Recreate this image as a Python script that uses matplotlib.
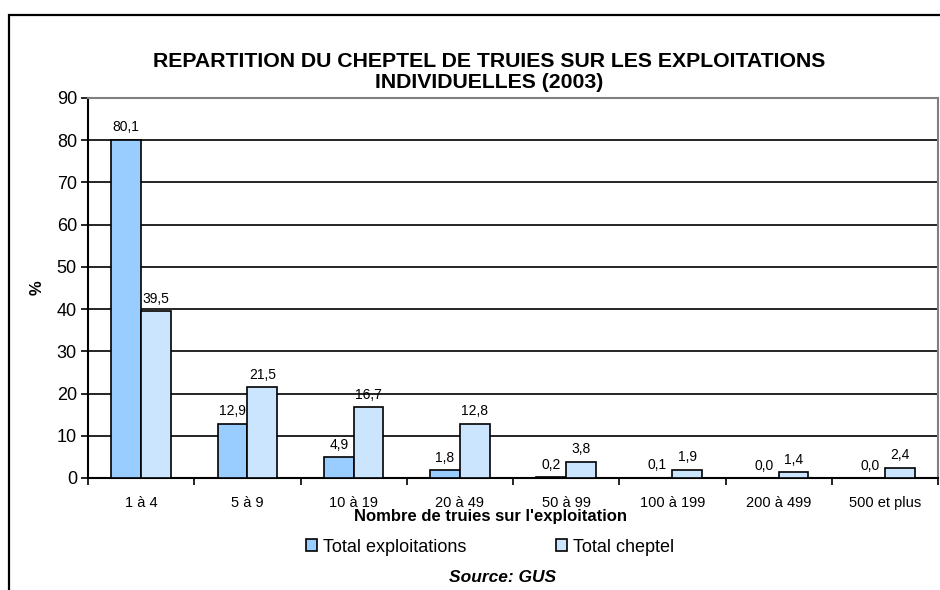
import matplotlib.pyplot as plt
import numpy as np
from matplotlib.patches import Rectangle

plt.rcParams["font.family"] = ["Liberation Sans", "DejaVu Sans"]

categories = ["1 à 4", "5 à 9", "10 à 19", "20 à 49", "50 à 99",
              "100 à 199", "200 à 499", "500 et plus"]
exploitations = [80.1, 12.9, 4.9, 1.8, 0.2, 0.1, 0.0, 0.0]
cheptel = [39.5, 21.5, 16.7, 12.8, 3.8, 1.9, 1.4, 2.4]


def fmt(v):
    return f"{v:.1f}".replace(".", ",")


fig = plt.figure(figsize=(9.4, 5.9), dpi=100)
ax = fig.add_axes([88 / 940, 1 - 478 / 590, 850 / 940, 380 / 590])

# outer chart frame (runs off the right and bottom edges)
fig.patches.append(Rectangle((9 / 940, -0.1), 1.2, 1 - 15 / 590 + 0.1,
                             transform=fig.transFigure, fill=False,
                             edgecolor="black", linewidth=1.6))

x = np.arange(len(categories))
w = 0.28
b1 = ax.bar(x - w / 2, exploitations, w, color="#99CCFF", edgecolor="black",
            linewidth=1.2, label="Total exploitations", zorder=3)
b2 = ax.bar(x + w / 2, cheptel, w, color="#CCE5FF", edgecolor="black",
            linewidth=1.2, label="Total cheptel", zorder=3)

for bars, vals in ((b1, exploitations), (b2, cheptel)):
    for r, v in zip(bars, vals):
        ax.text(r.get_x() + r.get_width() / 2, v + 1.3, fmt(v),
                ha="center", va="bottom", fontsize=10)

ax.set_xlim(-0.5, len(categories) - 0.5)
ax.set_ylim(0, 90)
ax.set_yticks(range(0, 91, 10))
ax.yaxis.grid(True, color="black", linewidth=1.2, zorder=0)
ax.tick_params(axis="y", labelsize=13, length=5, width=1.2, pad=3)
ax.set_xticks(x)
ax.set_xticklabels(categories, fontsize=10.5)
ax.tick_params(axis="x", length=0, pad=13)
ax.set_xticks(np.arange(-0.5, len(categories)), minor=True)
ax.tick_params(axis="x", which="minor", length=5, width=1.2)

for side in ("top", "right"):
    ax.spines[side].set_color("#808080")
    ax.spines[side].set_linewidth(1.5)
for side in ("left", "bottom"):
    ax.spines[side].set_linewidth(1.5)

fig.text(37 / 940, 1 - 288 / 590, "%", rotation=90, ha="center", va="center",
         fontsize=12, fontweight="bold")

fig.text(489 / 940, 1 - 72 / 590,
         "REPARTITION DU CHEPTEL DE TRUIES SUR LES EXPLOITATIONS\nINDIVIDUELLES (2003)",
         ha="center", va="center", fontsize=15.3, fontweight="bold",
         linespacing=1.12)
fig.text(490 / 940, 1 - 517 / 590, "Nombre de truies sur l'exploitation",
         ha="center", va="center", fontsize=12, fontweight="bold")
fig.text(503 / 940, 1 - 577 / 590, "Source: GUS", ha="center", va="center",
         fontsize=12.5, fontweight="bold", style="italic")

fig.legend(handles=[b1, b2], loc="center", bbox_to_anchor=(490 / 940, 1 - 547 / 590),
           ncol=2, frameon=False, fontsize=13, handlelength=0.6,
           handleheight=0.6, handletextpad=0.3, columnspacing=5.0,
           borderpad=0, borderaxespad=0)

fig.savefig("out.png", dpi=100)
